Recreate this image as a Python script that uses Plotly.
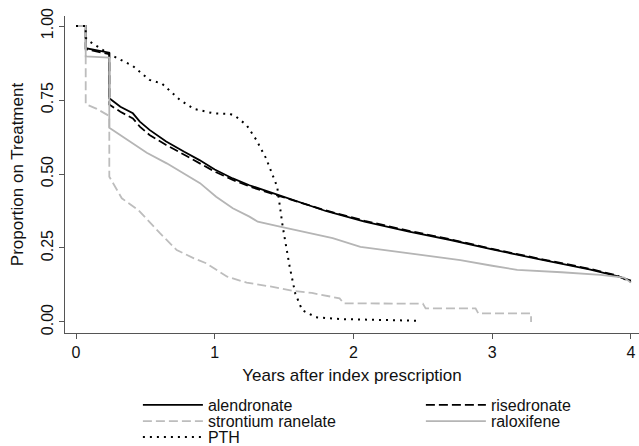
import plotly.graph_objects as go

# ---- data ----
alen_t = [0, 0.07, 0.07, 0.15, 0.24, 0.24, 0.32, 0.41, 0.46, 0.53, 0.65, 0.78, 0.89, 1.0, 1.13, 1.25,
          1.40, 1.6, 1.8, 2.08, 2.4, 2.7, 3.0, 3.37, 3.7, 3.9, 4.0]
alen_v = [1.0, 1.0, 0.925, 0.918, 0.91, 0.756, 0.727, 0.705, 0.677, 0.649, 0.61, 0.575, 0.547, 0.515,
          0.485, 0.462, 0.438, 0.405, 0.375, 0.339, 0.305, 0.277, 0.245, 0.209, 0.178, 0.155, 0.14]

rise_t = [0, 0.07, 0.07, 0.15, 0.24, 0.24, 0.32, 0.41, 0.46, 0.53, 0.65, 0.78, 0.89, 1.0, 1.13, 1.25,
          1.40, 1.6, 1.8, 2.08, 2.4, 2.7, 3.0, 3.37, 3.7, 3.9, 4.0]
rise_v = [1.0, 1.0, 0.922, 0.915, 0.905, 0.735, 0.71, 0.688, 0.66, 0.632, 0.598, 0.565, 0.536, 0.508,
          0.48, 0.458, 0.435, 0.405, 0.377, 0.342, 0.308, 0.279, 0.247, 0.211, 0.18, 0.157, 0.135]

stro_t = [0, 0.07, 0.07, 0.15, 0.24, 0.24, 0.33, 0.45, 0.605, 0.726, 0.85, 0.94, 1.09, 1.23, 1.4,
          1.57, 1.7, 1.9, 1.93, 2.5, 2.52, 2.88, 2.9, 3.28, 3.28]
stro_v = [1.0, 1.0, 0.736, 0.72, 0.696, 0.491, 0.418, 0.378, 0.30, 0.243, 0.215, 0.198, 0.153, 0.133,
          0.12, 0.105, 0.098, 0.08, 0.063, 0.062, 0.046, 0.046, 0.029, 0.029, 0.0]

ralo_t = [0, 0.07, 0.07, 0.15, 0.24, 0.24, 0.41, 0.51, 0.654, 0.80, 0.894, 1.01, 1.13, 1.25, 1.31,
          1.47, 1.64, 1.85, 2.05, 2.4, 2.77, 3.0, 3.18, 3.5, 3.78, 3.95, 4.0]
ralo_v = [1.0, 1.0, 0.897, 0.895, 0.893, 0.656, 0.604, 0.572, 0.536, 0.497, 0.469, 0.423, 0.384, 0.356,
          0.339, 0.322, 0.305, 0.283, 0.254, 0.232, 0.209, 0.19, 0.176, 0.168, 0.159, 0.15, 0.133]

pth_t = [0, 0.07, 0.07, 0.10, 0.24, 0.41, 0.53, 0.62, 0.75, 0.85, 0.99, 1.11, 1.15, 1.23, 1.30, 1.37,
         1.45, 1.49, 1.54, 1.58, 1.63, 1.73, 1.9, 2.14, 2.48]
pth_v = [1.0, 1.0, 0.96, 0.947, 0.905, 0.865, 0.818, 0.805, 0.75, 0.72, 0.705, 0.703, 0.695, 0.665,
         0.615, 0.553, 0.457, 0.322, 0.187, 0.097, 0.04, 0.016, 0.01, 0.007, 0.004]

y_ticks = [0, 0.25, 0.5, 0.75, 1.0]
y_labels = ["0.00", "0.25", "0.50", "0.75", "1.00"]
x_ticks = [0, 1, 2, 3, 4]

FONT = "Liberation Sans, Arial, Helvetica, sans-serif"

fig = go.Figure()
fig.add_trace(go.Scatter(x=alen_t, y=alen_v, mode="lines", name="alendronate", legend="legend",
                         line=dict(color="#000000", width=1.8)))
fig.add_trace(go.Scatter(x=rise_t, y=rise_v, mode="lines", name="risedronate", legend="legend2",
                         line=dict(color="#000000", width=1.8, dash="9px,4px")))
fig.add_trace(go.Scatter(x=stro_t, y=stro_v, mode="lines", name="strontium ranelate", legend="legend3",
                         line=dict(color="#bdbdbd", width=1.8, dash="9px,4px")))
fig.add_trace(go.Scatter(x=ralo_t, y=ralo_v, mode="lines", name="raloxifene", legend="legend4",
                         line=dict(color="#b5b5b5", width=1.8)))
fig.add_trace(go.Scatter(x=pth_t, y=pth_v, mode="lines", name="PTH", legend="legend5",
                         line=dict(color="#000000", width=2, dash="2px,5px")))

def leg(x, y):
    return dict(x=x, xanchor="left", y=y, yanchor="middle", itemwidth=60,
                font=dict(size=16), bgcolor="rgba(0,0,0,0)", borderwidth=0)

col1, col2 = 0.127, 0.620
row1, row2, row3 = -0.227, -0.278, -0.328

axis_col = "#555555"
fig.update_layout(
    width=639, height=446,
    margin=dict(l=65, r=0, t=16, b=113, autoexpand=False),
    paper_bgcolor="white", plot_bgcolor="white",
    font=dict(family=FONT, size=16, color="#111111"),
    showlegend=True,
    legend=leg(col1, row1),
    legend2=leg(col2, row1),
    legend3=leg(col1, row2),
    legend4=leg(col2, row2),
    legend5=leg(col1, row3),
    xaxis=dict(range=[-0.0793, 4.058], tickvals=x_ticks, ticks="outside", ticklen=5,
               tickcolor=axis_col, showline=True, linecolor=axis_col, linewidth=1.2,
               showgrid=False, zeroline=False,
               title=dict(text="Years after index prescription", font=dict(size=17), standoff=8)),
    yaxis=dict(range=[-0.0372, 1.0338], tickvals=y_ticks, ticktext=y_labels, tickangle=-90,
               ticks="outside", ticklen=5, tickcolor=axis_col, showline=True, linecolor=axis_col,
               linewidth=1.2, showgrid=False, zeroline=False,
               title=dict(text="Proportion on Treatment", font=dict(size=17), standoff=10)),
)

fig.write_html("out.html")
